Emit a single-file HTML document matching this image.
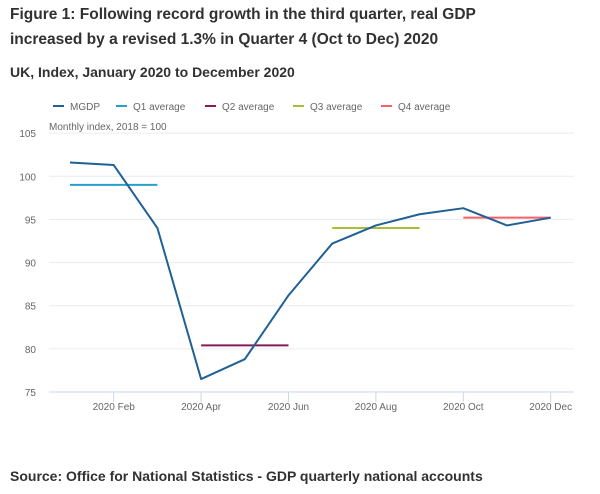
<!DOCTYPE html>
<html><head><meta charset="utf-8"><style>
body{margin:0;background:#fff;width:600px;height:494px;overflow:hidden;font-family:"Liberation Sans",sans-serif;color:#323132}
.t{position:absolute;left:10px;font-weight:bold;white-space:nowrap}
</style></head><body>
<div class="t" style="top:2px;font-size:15.5px;line-height:25px">Figure 1: Following record growth in the third quarter, real GDP<br>increased by a revised 1.3% in Quarter 4 (Oct to Dec) 2020</div>
<div class="t" style="top:64px;font-size:14px">UK, Index, January 2020 to December 2020</div>
<div class="t" style="top:468px;font-size:14px">Source: Office for National Statistics - GDP quarterly national accounts</div>
<svg id="c" width="600" height="494" style="position:absolute;left:0;top:0" font-family="Liberation Sans, sans-serif"></svg>
<script>
const months=[1,2,3,4,5,6,7,8,9,10,11,12];
const mgdp=[101.6,101.3,94.0,76.5,78.8,86.2,92.2,94.3,95.6,96.3,94.3,95.2];
const qNames=["Q1 average","Q2 average","Q3 average","Q4 average"];
const qValues=[99.0,80.4,94.0,95.2];
const qStart=[1,4,7,10];
const qEnd=[3,6,9,12];
const yTicks=[75,80,85,90,95,100,105];
const xTickMonths=[2,4,6,8,10,12];
const xTickLabels=["2020 Feb","2020 Apr","2020 Jun","2020 Aug","2020 Oct","2020 Dec"];
const qColors=["#27a0cc","#871a5b","#a8bd3a","#f66068"];
const NS="http://www.w3.org/2000/svg",svg=document.getElementById('c');
const X=m=>70+(m-1)*43.7, Y=v=>392-(v-75)*8.63;
function mk(t,a,txt){const e=document.createElementNS(NS,t);for(const k in a)e.setAttribute(k,a[k]);if(txt!=null)e.textContent=txt;svg.appendChild(e);return e;}
yTicks.forEach(v=>{
 const g=mk('line',{x1:49,x2:574,y1:Y(v),y2:Y(v),stroke:v==75?'#ccd6eb':'#ececec','stroke-width':1});
 
 
 const l=mk('text',{x:36,y:Y(v)+4,'text-anchor':'end','font-size':10,fill:'#666'},v);
 
 
});
xTickMonths.forEach((m,i)=>{
 const t=mk('line',{x1:X(m),x2:X(m),y1:392,y2:402,stroke:'#ccd6eb'});
 
 
 const l=mk('text',{x:X(m),y:410,'text-anchor':'middle','font-size':10,fill:'#666'},xTickLabels[i]);
 
 
});
const yt=mk('text',{x:49,y:130,'font-size':10,fill:'#666'},'Monthly index, 2018 = 100');


qValues.forEach((v,i)=>{
 const l=mk('line',{x1:X(qStart[i]),x2:X(qEnd[i]),y1:Y(v),y2:Y(v),stroke:qColors[i],'stroke-width':2});
 
 
});
const p=mk('polyline',{points:mgdp.map((v,i)=>X(months[i])+','+Y(v)).join(' '),fill:'none',stroke:'#206095','stroke-width':2,'stroke-linejoin':'round'});


const legNames=["MGDP"].concat(qNames),legCols=["#206095"].concat(qColors),legX=[53,116,205,293,381];
legNames.forEach((n,i)=>{
 const l=mk('line',{x1:legX[i],x2:legX[i]+11,y1:106,y2:106,stroke:legCols[i],'stroke-width':2});
 
 
 const t=mk('text',{x:legX[i]+17,y:110,'font-size':10,fill:'#666'},n);
 
 
});
</script>
</body></html>
